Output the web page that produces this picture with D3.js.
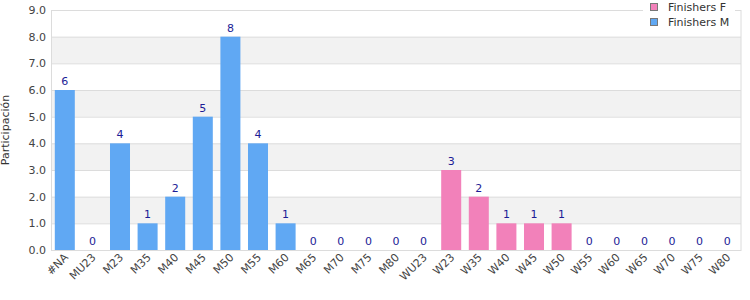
<!DOCTYPE html>
<html>
<head>
<meta charset="utf-8">
<script src="https://cdn.jsdelivr.net/npm/d3@7"></script>
<style>
  body { margin: 0; background: #fff; }
  text { font-family: "DejaVu Sans", Verdana, sans-serif; }
</style>
</head>
<body>
<svg id="draw"></svg>
<script>
// categories and counts
var categories = ["#NA", "MU23", "M23", "M35", "M40", "M45", "M50", "M55", "M60", "M65",
  "M70", "M75", "M80", "WU23", "W23", "W35", "W40", "W45", "W50", "W55",
  "W60", "W65", "W70", "W75", "W80"];
var finishersM = [6, 0, 4, 1, 2, 5, 8, 4, 1, 0, 0, 0, 0, 0, 0, 0, 0, 0, 0, 0, 0, 0, 0, 0, 0];
var finishersF = [0, 0, 0, 0, 0, 0, 0, 0, 0, 0, 0, 0, 0, 0, 3, 2, 1, 1, 1, 0, 0, 0, 0, 0, 0];
var yTicks = [0, 1, 2, 3, 4, 5, 6, 7, 8, 9];
var seriesNames = ["Finishers F", "Finishers M"];

var colorF = "#f281ba";
var colorM = "#60a8f3";

var margin = { top: 10, right: 9, bottom: 50, left: 51 };
var width = 750 - margin.left - margin.right;
var height = 300 - margin.top - margin.bottom;

var svgRoot = d3.select("#draw")
  .attr("width", 750)
  .attr("height", 300);

var svg = svgRoot.append("g")
  .attr("transform", "translate(" + margin.left + "," + margin.top + ")");

var xScale = d3.scaleBand()
  .domain(categories)
  .range([0, width])
  .paddingInner(0.275)
  .paddingOuter(0.1375);

var yScale = d3.scaleLinear()
  .domain([0, 9])
  .range([height, 0]);

// alternating bands
svg.selectAll(".band")
  .data(yTicks.slice(0, -1))
  .enter().append("rect")
  .attr("class", "band")
  .attr("x", 0)
  .attr("width", width)
  .attr("y", function(d) { return yScale(d + 1); })
  .attr("height", function(d) { return yScale(d) - yScale(d + 1); })
  .attr("fill", function(d) { return (d % 2 == 1) ? "#f2f2f2" : "#fff"; });

// grid lines
svg.selectAll(".grid")
  .data(yTicks)
  .enter().append("line")
  .attr("class", "grid")
  .attr("x1", 0)
  .attr("x2", width)
  .attr("y1", function(d) { return yScale(d) + 0.5; })
  .attr("y2", function(d) { return yScale(d) + 0.5; })
  .attr("stroke", "#dcdcdc");

// border
svg.append("rect")
  .attr("x", 0.5)
  .attr("y", 0.5)
  .attr("width", width - 0.5)
  .attr("height", height)
  .attr("fill", "none")
  .attr("stroke", "#dcdcdc");

// y axis
var yAxis = svg.append("g")
  .call(d3.axisLeft(yScale).tickValues(yTicks).tickFormat(d3.format(".1f")).tickSize(0).tickPadding(5));
yAxis.select(".domain").remove();
yAxis.selectAll("text")
  .attr("fill", "#444")
  .style("font-size", "11px");

// x axis
var xAxis = svg.append("g")
  .attr("transform", "translate(0," + height + ")")
  .call(d3.axisBottom(xScale).tickSize(0).tickPadding(0));
xAxis.select(".domain").remove();
xAxis.selectAll("text")
  .attr("fill", "#444")
  .style("font-size", "11px")
  .attr("text-anchor", "end")
  .attr("dy", "0")
  .attr("transform", "translate(4,8) rotate(-45)");

svg.append("text")
  .attr("transform", "translate(" + (-42) + "," + (height / 2) + ") rotate(-90)")
  .attr("text-anchor", "middle")
  .attr("fill", "#333")
  .style("font-size", "11px")
  .text("Participación");

// bars: one value per category from whichever series is non-zero
var rows = categories.map(function(c, i) {
  return {
    cat: c,
    value: finishersM[i] + finishersF[i],
    female: finishersF[i] > 0
  };
});

svg.selectAll(".bar")
  .data(rows)
  .enter().append("rect")
  .attr("class", "bar")
  .attr("x", function(d) { return xScale(d.cat); })
  .attr("width", xScale.bandwidth())
  .attr("y", function(d) { return yScale(d.value); })
  .attr("height", function(d) { return yScale(0) - yScale(d.value); })
  .attr("fill", function(d) { return d.female ? colorF : colorM; });

svg.selectAll(".label")
  .data(rows)
  .enter().append("text")
  .attr("class", "label")
  .attr("x", function(d) { return xScale(d.cat) + xScale.bandwidth() / 2; })
  .attr("y", function(d) { return yScale(d.value) - 5; })
  .attr("text-anchor", "middle")
  .attr("fill", "#1c1c96")
  .style("font-size", "11px")
  .text(function(d) { return d.value; });

// legend
var legend = svgRoot.append("g")
  .attr("transform", "translate(643,0)");
legend.append("rect")
  .attr("x", 0)
  .attr("y", 0)
  .attr("width", 92)
  .attr("height", 31)
  .attr("fill", "#fff");

var item = legend.selectAll(".item")
  .data(seriesNames)
  .enter().append("g")
  .attr("class", "item")
  .attr("transform", function(d, i) { return "translate(0," + (i * 15) + ")"; });
item.append("rect")
  .attr("x", 7.5)
  .attr("y", 3.5)
  .attr("width", 7)
  .attr("height", 7)
  .attr("fill", function(d, i) { return i == 0 ? colorF : colorM; })
  .attr("stroke", "#777");
item.append("text")
  .attr("x", 25)
  .attr("y", 11)
  .attr("fill", "#333")
  .style("font-size", "11px")
  .text(function(d) { return d; });
</script>
</body>
</html>
